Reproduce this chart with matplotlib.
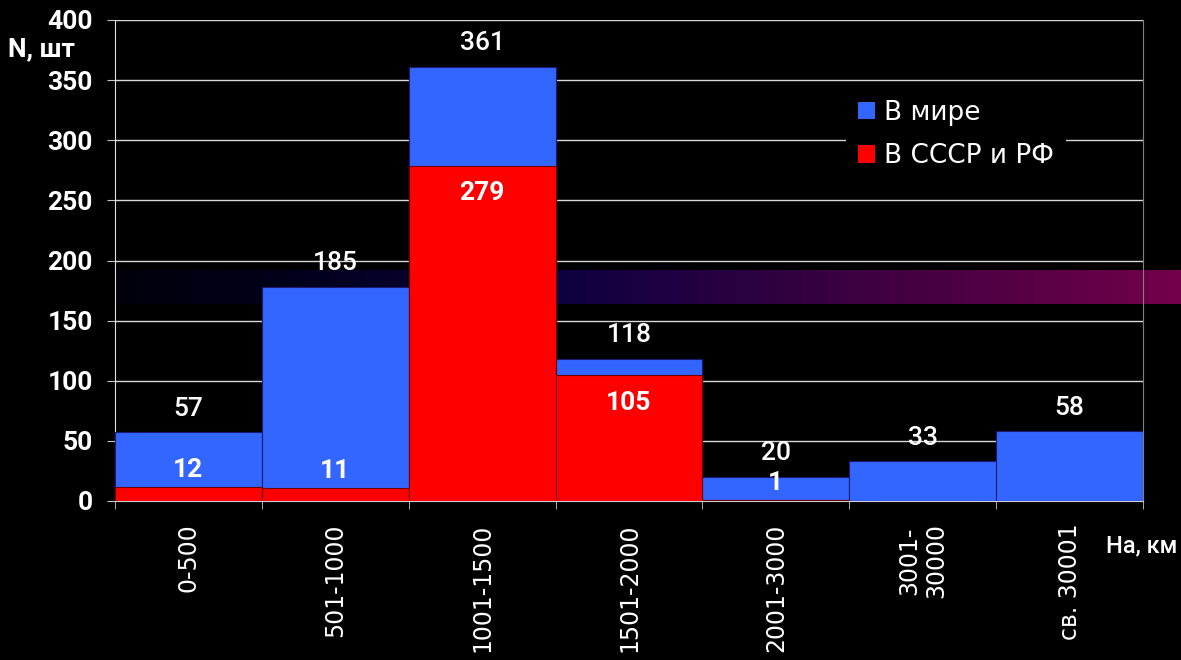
import matplotlib.pyplot as plt
import numpy as np
from matplotlib.patches import Patch
from matplotlib.colors import LinearSegmentedColormap

FONT = 'Roboto'
WIDE = 'DejaVu Sans'
WHITE = '#ffffff'
BLUE = '#3366ff'
RED = '#ff0000'

categories = ['0-500', '501-1000', '1001-1500', '1501-2000', '2001-3000',
              '3001-\n30000', 'св. 30001']
world_height = [57, 178, 361, 118, 20, 33, 58]   # bar heights as drawn
world_text = ['57', '185', '361', '118', '20', '33', '58']
ussr = [12, 11, 279, 105, 1, 0, 0]
yticks = [0, 50, 100, 150, 200, 250, 300, 350, 400]

fig = plt.figure(figsize=(11.81, 6.6), dpi=100, facecolor='black')
ax = fig.add_axes([115 / 1181, 1 - 501 / 660, 1028 / 1181, 481 / 660])
ax.set_facecolor('none')
ax.set_axisbelow(True)

x = np.arange(len(categories))
ax.bar(x, world_height, width=1.0, color=BLUE, edgecolor='#1a1a70',
       lw=0.8, zorder=3)
ax.bar(x[:5], ussr[:5], width=1.0, color=RED, edgecolor='#700000',
       lw=0.8, zorder=4)

# gradient band behind bars
cmap = LinearSegmentedColormap.from_list('band', [
    (0.0, '#00000c'), (0.136, '#000018'), (0.417, '#0e0040'),
    (0.577, '#280040'), (0.783, '#4a0042'), (1.0, '#72004a')])
grad = np.linspace(0, 1, 256).reshape(1, -1)
ax.imshow(grad, cmap=cmap, aspect='auto', extent=(-0.5, 6.76, 164, 192),
          clip_on=False, zorder=1, interpolation='bilinear')

ax.set_xlim(-0.5, 6.5)
ax.set_ylim(0, 400)

# value labels
for xi, h, t in zip(x, world_height, world_text):
    ax.annotate(t, (xi, h), xytext=(0, 17), textcoords='offset points',
                ha='center', va='center', color=WHITE, fontsize=19,
                fontfamily=FONT, fontweight='medium', zorder=6)
for xi, v in zip(x[:5], ussr[:5]):
    off = -20 if v > 30 else 12
    ax.annotate(str(v), (xi, v), xytext=(0, off), textcoords='offset points',
                ha='center', va='center', color=WHITE, fontsize=19,
                fontfamily=FONT, fontweight='bold', zorder=6)

# axes styling
ax.set_yticks(yticks)
ax.set_yticklabels([str(v) for v in yticks], fontsize=19, fontfamily=FONT,
                   fontweight='bold', color=WHITE)
ax.tick_params(axis='y', colors='#c8c8c8', length=6, pad=10,
               labelcolor=WHITE)
ax.grid(axis='y', color='#d8d8d8', lw=1)

ax.set_xticks(x)
ax.set_xticklabels(categories, rotation=90, fontsize=17, fontfamily=WIDE,
                   color=WHITE, va='top', ha='center',
                   multialignment='center', linespacing=1.15)
ax.tick_params(axis='x', which='major', length=0, pad=16, labelcolor=WHITE)
ax.set_xticks(np.arange(-0.5, 7.0, 1.0), minor=True)
ax.tick_params(axis='x', which='minor', length=6, color='#c8c8c8')

ax.spines['top'].set_visible(False)
ax.spines['left'].set_color('#e0e0e0')
ax.spines['bottom'].set_color('#d0d0d0')
ax.spines['right'].set_color('#808080')

fig.text(42 / 1181, 1 - 49 / 660, 'N, шт', ha='center', va='center',
         color=WHITE, fontsize=19, fontfamily=FONT, fontweight='bold')
fig.text(1142 / 1181, 1 - 546 / 660, 'На, км', ha='center', va='center',
         color=WHITE, fontsize=17, fontfamily=FONT, fontweight='medium')

handles = [Patch(facecolor=BLUE, edgecolor='none'),
           Patch(facecolor=RED, edgecolor='none')]
leg = ax.legend(handles, ['В мире', 'В СССР и РФ'], loc='upper left',
                bbox_to_anchor=(0.711, 0.859), borderaxespad=0,
                frameon=True, facecolor='black', edgecolor='none',
                framealpha=1, fancybox=False, handlelength=0.65,
                handleheight=0.65, handletextpad=0.34, labelspacing=0.66,
                borderpad=0.45, prop={'family': WIDE, 'size': 19})
for t in leg.get_texts():
    t.set_color(WHITE)
leg.set_zorder(7)

plt.savefig('out.png', dpi=100, facecolor='black')
plt.close()
